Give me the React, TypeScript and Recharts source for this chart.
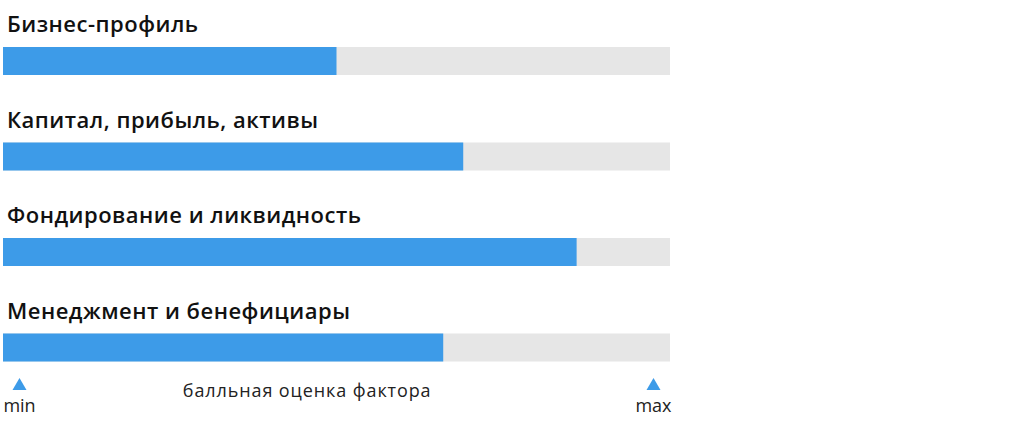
import { BarChart, Bar, XAxis, YAxis, LabelList } from 'recharts';

const categories = [
  'Бизнес-профиль',
  'Капитал, прибыль, активы',
  'Фондирование и ликвидность',
  'Менеджмент и бенефициары',
];
const scores = [50, 69, 86, 66];
const scaleTicks = [0, 100];
const scaleLabels = ['min', 'max'];
const axisTitle = 'балльная оценка фактора';

const BLUE = '#3d9be8';
const TRACK = '#e6e6e6';
const FONT = '"Open Sans", "Noto Sans", sans-serif';

const data = categories.map((name, i) => ({ name, score: scores[i] }));

function RowLabel(props: any) {
  const { x, y, value } = props;
  return (
    <text
      x={x + 4}
      y={y - 15}
      fill="#111"
      fontFamily={FONT}
      fontSize={22}
      fontWeight={600}
      letterSpacing={0.5}
    >
      {value}
    </text>
  );
}

function ScaleTick(props: any) {
  const { x, y, payload, index } = props;
  const shift = index === 0 ? 16.5 : -16.5;
  const cx = x + shift;
  const top = y - 25;
  return (
    <g>
      <polygon points={`${cx - 7},${top + 12} ${cx + 7},${top + 12} ${cx},${top}`} fill={BLUE} />
      <text x={cx} y={top + 34} textAnchor="middle" fill="#222" fontFamily={FONT} fontSize={18}>
        {scaleLabels[scaleTicks.indexOf(payload.value)]}
      </text>
    </g>
  );
}

function AxisTitle(props: any) {
  const { viewBox } = props;
  return (
    <text
      x={viewBox.x + viewBox.width * 0.456}
      y={viewBox.y + 2}
      textAnchor="middle"
      fill="#222"
      fontFamily={FONT}
      fontSize={18}
      letterSpacing={0.9}
    >
      {axisTitle}
    </text>
  );
}

export default function App() {
  return (
    <div style={{ position: 'absolute', left: 0, top: 0, width: 1024, height: 423, background: '#fff' }}>
      <BarChart
        width={680}
        height={423}
        data={data}
        layout="vertical"
        margin={{ top: 13, right: 10, bottom: 0, left: 3 }}
      >
        <XAxis
          type="number"
          domain={[0, 100]}
          ticks={scaleTicks}
          height={28}
          axisLine={false}
          tickLine={false}
          tick={<ScaleTick />}
          label={<AxisTitle />}
          interval={0}
        />
        <YAxis type="category" dataKey="name" hide />
        <Bar
          dataKey="score"
          fill={BLUE}
          barSize={28}
          background={{ fill: TRACK }}
          isAnimationActive={false}
        >
          <LabelList dataKey="name" content={<RowLabel />} />
        </Bar>
      </BarChart>
    </div>
  );
}
